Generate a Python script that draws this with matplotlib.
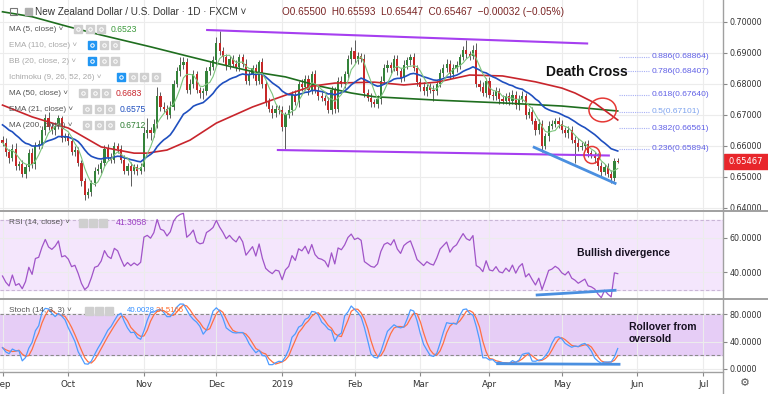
import numpy as np
import pandas as pd
import matplotlib
matplotlib.use('Agg')
import matplotlib.pyplot as plt
from matplotlib.patches import Ellipse, Rectangle

W, H = 768, 394

# daily closes in pips (0.0001), one list per month
sep_close = [6610, 6580, 6560, 6590, 6535, 6540, 6510, 6530, 6575, 6540,
             6600, 6605, 6650, 6690, 6660, 6650, 6665, 6690, 6625, 6630]
oct_close = [6615, 6580, 6585, 6545, 6485, 6440, 6450, 6480, 6520, 6525,
             6545, 6590, 6565, 6555, 6600, 6590, 6555, 6520, 6535, 6520,
             6530, 6520, 6530]
nov_close = [6640, 6650, 6640, 6670, 6760, 6725, 6720, 6700, 6725, 6800,
             6840, 6860, 6870, 6780, 6800, 6830, 6780, 6770, 6775, 6840,
             6855, 6875]
dec_close = [6930, 6905, 6885, 6860, 6880, 6865, 6855, 6885, 6865, 6810,
             6830, 6850, 6810, 6870, 6800, 6740, 6720, 6705, 6720, 6715]
jan_close = [6660, 6700, 6715, 6765, 6740, 6800, 6790, 6815, 6780, 6830,
             6780, 6760, 6755, 6745, 6715, 6780, 6720, 6810, 6800, 6830,
             6880, 6905]
feb_close = [6880, 6890, 6880, 6770, 6755, 6740, 6735, 6750, 6810, 6850,
             6860, 6850, 6880, 6840, 6820, 6860, 6875, 6885, 6850, 6805]
mar_close = [6790, 6775, 6790, 6780, 6775, 6800, 6835, 6850, 6865, 6830,
             6850, 6860, 6885, 6910, 6895, 6890, 6910, 6800, 6790, 6770,
             6810]
apr_close = [6765, 6760, 6775, 6750, 6745, 6760, 6745, 6765, 6730, 6750,
             6760, 6700, 6710, 6680, 6650, 6670, 6600, 6630, 6665, 6670,
             6680, 6670]
may_close = [6650, 6640, 6650, 6620, 6610, 6595, 6600, 6605, 6575, 6570,
             6560, 6535, 6515, 6530, 6510, 6495, 6550, 6546.7]

# wick lengths in pips above / below the candle body
wick_up_pips = [12, 15, 10, 14, 18, 10, 15, 12, 14, 16, 12, 15, 14, 12, 18, 12, 10, 10, 5, 12,
                10, 12, 15, 10, 10, 12, 15, 10, 12, 15, 10, 12, 15, 10, 12, 10, 12, 15, 10, 14, 12, 10, 15,
                20, 40, 10, 15, 30, 12, 15, 10, 20, 12, 15, 26, 15, 12, 14, 15, 12, 10, 12, 14, 18, 15,
                20, 40, 15, 12, 10, 14, 12, 12, 10, 14, 12, 10, 15, 6, 12, 10, 15, 12, 10, 10,
                12, 10, 15, 12, 14, 10, 15, 12, 14, 10, 15, 12, 14, 10, 12, 14, 10, 12, 15, 12, 14, 12,
                35, 12, 10, 15, 12, 14, 10, 12, 14, 12, 15, 10, 14, 12, 10, 15, 12, 10, 15, 10,
                12, 14, 10, 12, 15, 10, 14, 12, 15, 10, 12, 14, 10, 12, 30, 12, 14, 20, 12, 15, 10,
                12, 10, 14, 12, 15, 10, 12, 14, 10, 12, 15, 10, 12, 14, 10, 15, 12, 10, 14, 12, 10, 12,
                12, 10, 14, 12, 10, 15, 12, 10, 14, 12, 10, 15, 12, 10, 14, 12, 10, 9]
wick_lo_pips = [10, 12, 15, 10, 12, 14, 10, 15, 10, 12, 15, 10, 12, 14, 10, 12, 14, 10, 12, 10,
                12, 10, 14, 12, 15, 16, 10, 12, 10, 12, 14, 10, 12, 10, 12, 15, 10, 12, 14, 50, 10, 15, 12,
                10, 15, 20, 12, 12, 14, 10, 15, 12, 10, 12, 15, 14, 10, 12, 15, 10, 15, 18, 10, 12, 10,
                15, 12, 14, 15, 12, 10, 15, 14, 12, 10, 14, 12, 15, 10, 14, 12, 10, 15, 12, 14,
                14, 71, 12, 15, 10, 14, 12, 10, 15, 12, 10, 14, 12, 15, 10, 12, 15, 10, 12, 14, 10, 15,
                12, 15, 10, 14, 12, 15, 10, 12, 14, 10, 12, 15, 10, 12, 14, 10, 12, 15, 10, 14,
                14, 12, 15, 10, 30, 12, 10, 14, 12, 15, 10, 12, 14, 10, 12, 15, 10, 12, 14, 10, 12,
                10, 14, 12, 15, 10, 12, 14, 10, 12, 15, 10, 14, 12, 10, 15, 12, 20, 10, 14, 12, 10, 14,
                10, 12, 14, 10, 65, 12, 10, 14, 12, 10, 15, 12, 14, 10, 12, 14, 10, 2]
first_open = 0.6620

# moving averages (bar index, price)
ma50_idx = [0, 9, 20, 30, 40, 44, 50, 57, 65, 76, 86, 94, 101, 113, 122, 132,
            142, 152, 162, 170, 174, 180, 187]
ma50_val = [0.6731, 0.6693, 0.6657, 0.6596, 0.6576, 0.6576, 0.6586, 0.6618,
            0.6673, 0.6725, 0.6763, 0.6792, 0.6802, 0.6805, 0.6796, 0.6805,
            0.6828, 0.6825, 0.6806, 0.6786, 0.6770, 0.6738, 0.6683]
ma200_idx = [0, 9, 20, 30, 45, 57, 65, 76, 86, 96, 106, 113, 132, 152, 170, 187]
ma200_val = [0.7032, 0.7016, 0.6984, 0.6957, 0.6919, 0.6887, 0.6866, 0.6839,
             0.6822, 0.6793, 0.6770, 0.6758, 0.6747, 0.6738, 0.6728, 0.6712]
ema21_start = 0.6673
rsi_seed_gain, rsi_seed_loss = 0.0009, 0.0014

month_idx = [0, 20, 43, 65, 85, 107, 127, 148, 170, 193, 213]
month_lbl = ['Sep', 'Oct', 'Nov', 'Dec', '2019', 'Feb', 'Mar', 'Apr', 'May', 'Jun', 'Jul']

fib_ratio = ['0.886', '0.786', '0.618', '0.5', '0.382', '0.236']
fib_price = [0.68864, 0.68407, 0.67640, 0.67101, 0.66561, 0.65894]

legend_rows = [('MA (5, close)', '0.6523', '#3c9a3c', True, 3),
               ('EMA (110, close)', None, None, False, 3),
               ('BB (20, close, 2)', None, None, False, 3),
               ('Ichimoku (9, 26, 52, 26)', None, None, False, 4),
               ('MA (50, close)', '0.6683', '#c8252c', True, 3),
               ('EMA (21, close)', '0.6575', '#1f4fbf', True, 3),
               ('MA (200, close)', '0.6712', '#2e7d32', True, 3)]
box_x0 = {'MA (5, close)': 74, 'MA (50, close)': 79, 'EMA (21, close)': 83,
          'MA (200, close)': 83, 'Ichimoku (9, 26, 52, 26)': 117}

# ---- derived series ----
close = np.array(sep_close + oct_close + nov_close + dec_close + jan_close +
                 feb_close + mar_close + apr_close + may_close) / 10000
n = len(close)
idx = np.arange(n)
opens = np.r_[first_open, close[:-1]]
highs = np.maximum(opens, close) + np.array(wick_up_pips) / 10000
lows = np.minimum(opens, close) - np.array(wick_lo_pips) / 10000

ma5 = pd.Series(close).rolling(5, min_periods=1).mean()
ema21 = []
e = ema21_start
for c in close:
    e = e + (c - e) * 2 / 22
    ema21.append(e)

rsi = []
g, l = rsi_seed_gain, rsi_seed_loss
for i in range(n):
    ch = close[i] - opens[i] if i == 0 else close[i] - close[i - 1]
    g = (g * 13 + max(ch, 0)) / 14
    l = (l * 13 + max(-ch, 0)) / 14
    rsi.append(100 * g / (g + l))

hh = pd.Series(highs).rolling(14, min_periods=1).max()
ll = pd.Series(lows).rolling(14, min_periods=1).min()
raw = 100 * (pd.Series(close) - ll) / (hh - ll)
st_k = raw.rolling(3, min_periods=1).mean()
st_d = st_k.rolling(3, min_periods=1).mean()

# ---- figure ----
plt.rcParams['font.family'] = ['DejaVu Sans']
fig = plt.figure(figsize=(W / 100, H / 100), dpi=100)


def px_axes(top, bottom):
    return fig.add_axes([0, 1 - bottom / H, 723 / W, (bottom - top) / H])


ax = px_axes(0, 211)
ax_rsi = px_axes(212, 299)
ax_st = px_axes(299, 372)
xlim = (-2.5 / 3.29, 720.5 / 3.29)

for a in (ax, ax_rsi, ax_st):
    a.set_xlim(*xlim)
    a.patch.set_alpha(0)
    for s in a.spines.values():
        s.set_visible(False)
    a.set_xticks(month_idx)
    a.grid(True, color='#ececec', lw=0.8)
    a.set_axisbelow(True)
    a.yaxis.tick_right()
    a.tick_params(axis='y', length=3, color='#888888', labelsize=5.8,
                  labelcolor='#333333', pad=2)
    a.tick_params(axis='x', length=0, labelbottom=False)

# price panel
ax.set_ylim(0.63894, 0.70700)
pt = [0.64, 0.65, 0.66, 0.67, 0.68, 0.69, 0.70]
ax.set_yticks(pt, ['%.5f' % v for v in pt])
up = close >= opens
body_lo = np.minimum(opens, close)
body_h = np.maximum(np.abs(close - opens), 0.00008)
ax.vlines(idx, lows, highs, color='#5a5a5a', lw=0.7, zorder=2)
ax.bar(idx[up], body_h[up], bottom=body_lo[up], width=0.66, color='#34833a', zorder=3)
ax.bar(idx[~up], body_h[~up], bottom=body_lo[~up], width=0.66, color='#c62828', zorder=3)

ax.plot(ma200_idx, ma200_val, color='#1f6e1f', lw=1.2, zorder=4)
ax.plot(ma50_idx, ma50_val, color='#c8252c', lw=1.2, zorder=4)
ax.plot(idx, ema21, color='#1f4fbf', lw=1.2, zorder=4)
ax.plot(idx, ma5, color='#7cc47c', lw=0.8, zorder=4)

# drawings
ax.plot([62.2, 177.7], [0.69732, 0.69297], color='#a63ff0', lw=1.5, zorder=5)
ax.plot([83.7, 184.3], [0.65861, 0.65684], color='#a63ff0', lw=1.5, zorder=5)
ax.plot([161.6, 186.2], [0.65948, 0.64787], color='#4a8fe0', lw=2, zorder=5)
ax.add_patch(Ellipse((182.4, 0.67152), 8.3, 0.00765, fill=False, ec='#e53935', lw=1.1, zorder=6))
ax.add_patch(Ellipse((179.2, 0.65700), 4.9, 0.0055, fill=False, ec='#e53935', lw=1.1, zorder=6))
ax.text(177.7, 0.68381, 'Death Cross', ha='center', va='center', fontsize=10,
        fontweight='bold', family='Liberation Sans', color='#111111', zorder=7)
for r, p in zip(fib_ratio, fib_price):
    col = '#7fa3ee' if r == '0.5' else '#5f5fe6'
    ax.plot([187.4, 196.5], [p, p], color='#a8b0f5', lw=0.8, ls=(0, (1, 1)), zorder=5)
    ax.text(197.4, p, '%s(%.5f)' % (r, p), color=col, fontsize=6.1,
            family='Liberation Sans', va='center', ha='left', zorder=7)

# RSI panel
ax_rsi.set_ylim(24.57, 74.86)
ax_rsi.set_yticks([40, 60], ['40.0000', '60.0000'])
ax_rsi.axhspan(30, 70, color='#f4e6fc', zorder=0)
for v in (30, 70):
    ax_rsi.axhline(v, color='#c9b6d6', lw=0.8, ls=(0, (3, 2)), zorder=1)
ax_rsi.plot(idx, rsi, color='#a054c8', lw=0.9, zorder=4)
ax_rsi.plot([162.5, 186.2], [26.9, 29.6], color='#4a8fe0', lw=2, zorder=5)

# Stoch panel
ax_st.set_ylim(-4.4, 102.4)
ax_st.set_yticks([0, 40, 80], ['0.0000', '40.0000', '80.0000'])
ax_st.axhspan(20, 80, color='#e6cdf6', zorder=0)
for v in (20, 80):
    ax_st.axhline(v, color='#8a8a8a', lw=0.8, ls=(0, (3, 2)), zorder=1)
ax_st.plot(idx, st_d, color='#ff7043', lw=0.9, zorder=4)
ax_st.plot(idx, st_k, color='#4d9cff', lw=0.9, zorder=4)
ax_st.plot([150.5, 187.4], [7.7, 6.9], color='#4a8fe0', lw=2, zorder=5)
ax_st.set_xticks(month_idx, month_lbl)
ax_st.tick_params(axis='x', length=3, color='#888888', labelbottom=True,
                  labelsize=6.3, labelcolor='#333333', pad=2.5, direction='out')

# overlay in pixel coordinates for chrome and notes
ov = fig.add_axes([0, 0, 1, 1], zorder=10)
ov.set_xlim(0, W)
ov.set_ylim(H, 0)
ov.axis('off')
ov.patch.set_alpha(0)
ov.plot([0, W], [211, 211], color='#a0a0a0', lw=1.4)
ov.plot([0, W], [299, 299], color='#a0a0a0', lw=1.4)
ov.plot([0, 723], [372, 372], color='#a0a0a0', lw=1)
ov.plot([723, 723], [0, H], color='#a0a0a0', lw=1)
ov.text(745, 383, '\u2699', fontsize=8, ha='center', va='center', color='#555555')

ov.add_patch(Rectangle((724, 154), 44, 15, color='#e8262b'))
ov.text(746, 161.5, '0.65467', color='white', fontsize=6, ha='center', va='center')

# header
ov.add_patch(Rectangle((10, 8), 7, 7, fill=False, ec='#777777', lw=0.8))
ov.add_patch(Rectangle((25, 8), 7, 7, color='#b0b0b0'))
ov.text(35, 12, 'New Zealand Dollar / U.S. Dollar \u00b7 1D \u00b7 FXCM \u02c5', fontsize=7.2,
        color='#333333', va='center', family='Liberation Sans')
ov.text(282, 12, 'O0.65500  H0.65593  L0.65447  C0.65467  \u22120.00032 (\u22120.05%)',
        fontsize=7.2, color='#7a2424', va='center', family='Liberation Sans')

row_y = [29, 45, 61, 77, 93, 109, 125]
for (name, val, col, active, nbox), y in zip(legend_rows, row_y):
    tc = '#555555' if active else '#a8a8a8'
    ov.text(9, y, name + ' \u02c5', fontsize=5.9, color=tc, va='center',
            family='Liberation Sans')
    bx0 = box_x0.get(name, 88)
    for k in range(nbox):
        fc = '#2196f3' if (not active and k == 0) else '#cfcfcf'
        ov.add_patch(Rectangle((bx0 + 11.5 * k, y - 4), 8, 8, color=fc))
        ov.plot(bx0 + 11.5 * k + 4, y, 'o', ms=2.5, mfc='none', mec='white', mew=0.7)
    if val:
        ov.text(bx0 + 11.5 * nbox + 2, y, val, fontsize=6.2, color=col, va='center',
                family='Liberation Sans')

ov.text(9, 222.5, 'RSI (14, close) \u02c5', fontsize=5.9, color='#555555', va='center',
        family='Liberation Sans')
for k in range(3):
    ov.add_patch(Rectangle((79 + 10 * k, 218.5), 8, 8, color='#cfcfcf'))
ov.text(116, 222.5, '41.3058', fontsize=6.2, color='#9c3fc4', va='center', family='Liberation Sans')

ov.text(9, 310.5, 'Stoch (14, 3, 3) \u02c5', fontsize=5.9, color='#555555', va='center',
        family='Liberation Sans')
for k in range(3):
    ov.add_patch(Rectangle((85 + 10 * k, 306.5), 8, 8, color='#cfcfcf'))
ov.text(127, 310.5, '40.0028', fontsize=5.6, color='#2f8cff', va='center', family='Liberation Sans')
ov.text(156, 310.5, '24.5166', fontsize=5.6, color='#ff6d2d', va='center', family='Liberation Sans')

ov.text(577, 253, 'Bullish divergence', fontsize=7.5, fontweight='bold', color='#161020',
        va='center', family='Liberation Sans')
ov.text(629, 327, 'Rollover from', fontsize=7.5, fontweight='bold', color='#161020',
        va='center', family='Liberation Sans')
ov.text(629, 338.5, 'oversold', fontsize=7.5, fontweight='bold', color='#161020',
        va='center', family='Liberation Sans')

fig.savefig('out.png', dpi=100)
